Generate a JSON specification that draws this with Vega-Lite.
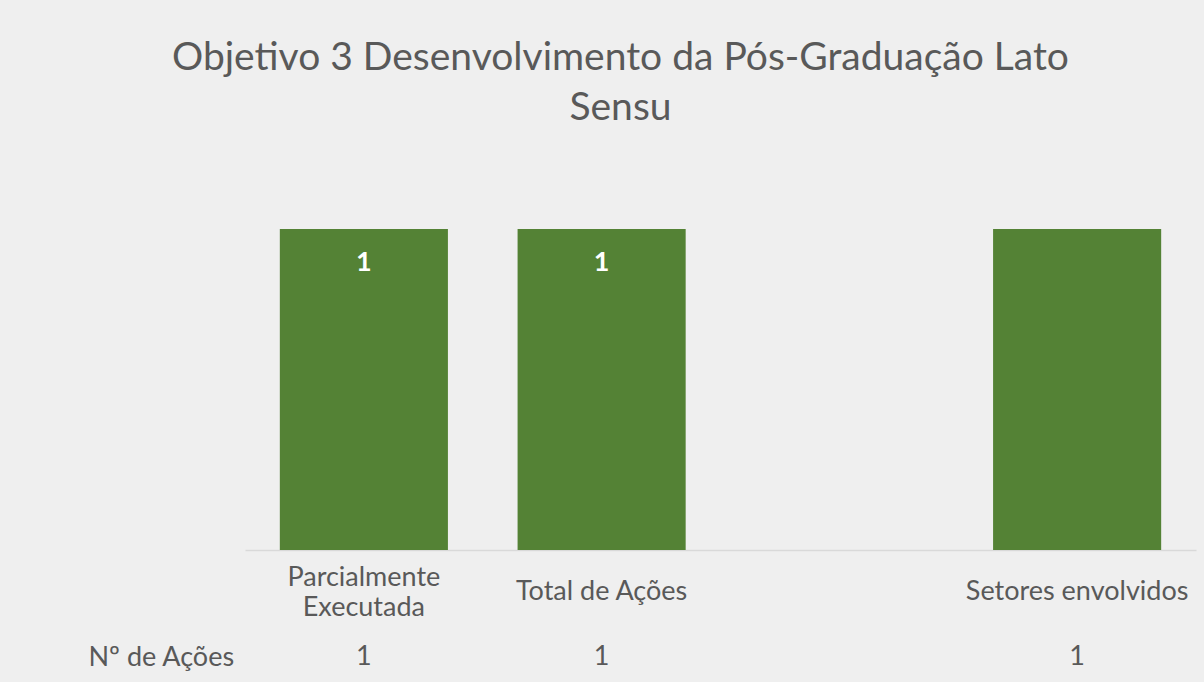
{
  "$schema": "https://vega.github.io/schema/vega-lite/v6.json",
  "width": 951,
  "height": 321,
  "autosize": {"type": "none"},
  "padding": {"left": 245, "top": 229, "right": 8, "bottom": 132},
  "background": "#efefef",
  "title": {
    "text": ["Objetivo 3 Desenvolvimento da Pós-Graduação Lato", "Sensu"],
    "anchor": "middle",
    "dx": -100,
    "offset": 101,
    "font": "Lato",
    "fontSize": 39,
    "fontWeight": "normal",
    "color": "#595959",
    "lineHeight": 50
  },
  "data": {
    "values": [
      {"categoria": "Parcialmente Executada", "acoes": 1, "rotulo": 1},
      {"categoria": "Total de Ações", "acoes": 1, "rotulo": 1},
      {"categoria": "", "acoes": null, "rotulo": null},
      {"categoria": "Setores envolvidos", "acoes": 1, "rotulo": null}
    ]
  },
  "encoding": {
    "x": {
      "field": "categoria",
      "type": "nominal",
      "sort": null,
      "scale": {"domain": ["Parcialmente Executada", "Total de Ações", "", "Setores envolvidos"], "paddingInner": 0.293, "paddingOuter": 0.1465},
      "axis": {
        "title": "Nº de Ações",
        "titleX": -157,
        "titleY": 115,
        "titleAlign": "left",
        "titleBaseline": "alphabetic",
        "titleFont": "Lato",
        "titleFontSize": 27,
        "titleFontWeight": "normal",
        "titleColor": "#595959",
        "labelExpr": "datum.value == 'Parcialmente Executada' ? ['Parcialmente', 'Executada'] : datum.value",
        "labelAngle": 0,
        "labelBaseline": "middle",
        "labelPadding": {"condition": {"test": "datum.value == 'Parcialmente Executada'", "value": 27}, "value": 41},
        "labelLineHeight": 30,
        "labelFont": "Lato",
        "labelFontSize": 27,
        "labelColor": "#595959",
        "labelLimit": 300,
        "ticks": false,
        "tickSize": 0,
        "domainColor": "#d9d9d9",
        "domainWidth": 1.5,
        "grid": false
      }
    }
  },
  "layer": [
    {
      "mark": {"type": "bar", "color": "#548235"},
      "encoding": {
        "y": {"field": "acoes", "type": "quantitative", "scale": {"domain": [0, 1]}, "axis": null}
      }
    },
    {
      "transform": [{"filter": "datum.rotulo != null"}],
      "mark": {"type": "text", "color": "#ffffff", "font": "Lato", "fontWeight": "bold", "fontSize": 27, "baseline": "top", "dy": 21},
      "encoding": {
        "y": {"field": "acoes", "type": "quantitative"},
        "text": {"field": "rotulo", "type": "quantitative"}
      }
    },
    {
      "transform": [{"filter": "datum.acoes != null"}],
      "mark": {"type": "text", "color": "#595959", "font": "Lato", "fontSize": 27, "baseline": "alphabetic", "dy": 115},
      "encoding": {
        "y": {"datum": 0, "type": "quantitative"},
        "text": {"field": "acoes", "type": "quantitative"}
      }
    }
  ],
  "config": {"view": {"stroke": null}}
}
